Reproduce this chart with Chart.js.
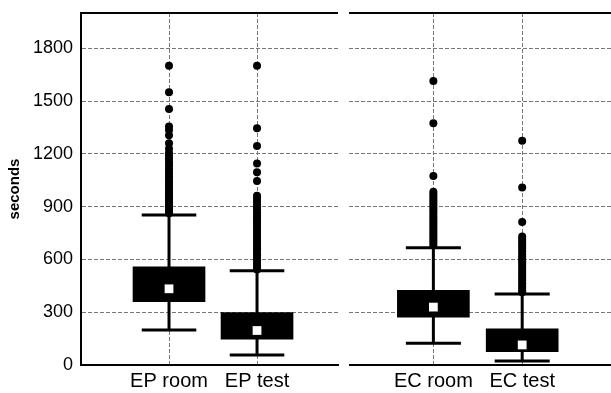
<!DOCTYPE html>
<html>
<head>
<meta charset="utf-8">
<script src="https://cdn.jsdelivr.net/npm/chart.js@4.4.1/dist/chart.umd.min.js"></script>
<style>
  body { margin: 0; background: #fff; }
  #wrap { position: relative; width: 611px; height: 393px; overflow: hidden; }
  #chart_ep { position: absolute; left: 0; top: 0; }
  #chart_ec { position: absolute; left: 349px; top: 0; }
</style>
</head>
<body>
<div id="wrap">
  <canvas id="chart_ep" width="340" height="393"></canvas>
  <canvas id="chart_ec" width="262" height="393"></canvas>
</div>
<script>
// Box plots de tiempos (segundos): panel EP y panel EC

const catEP = ['EP room', 'EP test'];
const catEC = ['EC room', 'EC test'];
const posX = [1, 2];

// cuartiles y bigotes
const lowEP  = [199, 57];
const q1EP   = [360, 147];
const medEP  = [433, 196];
const q3EP   = [558, 298];
const highEP = [852, 536];

const lowEC  = [124, 23];
const q1EC   = [272, 76];
const medEC  = [329, 114];
const q3EC   = [424, 205];
const highEC = [666, 403];

// valores atípicos
const outEPRoom = [1700, 1550, 1455, 1355, 1335, 1305, 1260, 1228, 1205, 1188, 1170, 1152, 1135, 1118, 1102, 1088,
                   1072, 1058, 1043, 1030, 1016, 1002, 990, 976, 962, 950, 938, 925, 913, 902, 892, 881, 870, 862];
const outEPTest = [1700, 1345, 1245, 1145, 1095, 1045, 962, 945, 928, 912, 897, 882, 866, 851, 836, 822, 808, 795,
                   780, 764, 750, 736, 721, 707, 692, 678, 664, 650, 636, 622, 608, 594, 580, 566, 552, 542];
const outECRoom = [1614, 1373, 1074, 985, 971, 957, 943, 929, 915, 901, 887, 873, 859, 845, 831, 818, 804, 790,
                   776, 762, 748, 735, 722, 708, 694, 680];
const outECTest = [1274, 1008, 812, 730, 716, 702, 688, 674, 660, 646, 632, 618, 604, 590, 576, 562, 548, 534,
                   520, 506, 492, 478, 464, 450, 437, 424, 414];

const yTicks = [0, 300, 600, 900, 1200, 1500, 1800];
const yMax = 2000;

const capHalf = 0.31;
const gridColor = '#777';

function seg(x1, y1, x2, y2) {
    return {
        type: 'line',
        data: [{ x: x1, y: y1 }, { x: x2, y: y2 }],
        borderColor: '#000',
        borderWidth: 3,
        pointRadius: 0,
        order: 2
    };
}

function boxDatasets(low, q1, med, q3, high, outs) {
    const ds = [];
    // cajas
    ds.push({
        type: 'bar',
        data: posX.map((x, i) => ({ x: x, y: [q1[i], q3[i]] })),
        backgroundColor: '#000',
        borderWidth: 0,
        barThickness: 72,
        order: 3
    });
    // bigotes
    posX.forEach((x, i) => {
        ds.push(seg(x, low[i], x, high[i]));
        ds.push(seg(x - capHalf, low[i], x + capHalf, low[i]));
        ds.push(seg(x - capHalf, high[i], x + capHalf, high[i]));
    });
    // atípicos
    ds.push({
        type: 'scatter',
        data: outs.flatMap((arr, i) => arr.map(v => ({ x: posX[i], y: v }))),
        backgroundColor: '#000',
        borderWidth: 0,
        pointRadius: 4,
        order: 1
    });
    // medianas
    ds.push({
        type: 'scatter',
        data: posX.map((x, i) => ({ x: x, y: med[i] })),
        pointStyle: 'rect',
        backgroundColor: '#fff',
        borderWidth: 0,
        pointRadius: 6.2,
        order: 0
    });
    return ds;
}

// línea superior del marco
const topLine = {
    id: 'topLine',
    beforeDatasetsDraw(chart) {
        const a = chart.chartArea;
        const c = chart.ctx;
        c.save();
        c.strokeStyle = '#000';
        c.lineWidth = 2;
        c.beginPath();
        c.moveTo(a.left, a.top);
        c.lineTo(a.right, a.top);
        c.stroke();
        c.restore();
    }
};

function makeChart(id, cats, datasets, xMin, xMax, left) {
    return new Chart(document.getElementById(id).getContext('2d'), {
        type: 'bar',
        data: { datasets: datasets },
        plugins: [topLine],
        options: {
            responsive: false,
            animation: false,
            layout: { autoPadding: false, padding: { top: 13, right: left ? 2 : 0, left: 0, bottom: 0 } },
            plugins: { legend: { display: false }, tooltip: { enabled: false } },
            scales: {
                x: {
                    type: 'linear',
                    min: xMin,
                    max: xMax,
                    offset: false,
                    afterBuildTicks: (axis) => { axis.ticks = posX.map(v => ({ value: v })); },
                    afterFit: (scale) => {
                        scale.height = 28;
                        scale.paddingLeft = 0;
                        scale.paddingRight = 0;
                    },
                    ticks: {
                        autoSkip: false,
                        maxRotation: 0,
                        padding: 4,
                        color: '#000',
                        font: { family: 'Liberation Sans, Arial, sans-serif', size: 20 },
                        callback: (v) => cats[posX.indexOf(v)]
                    },
                    grid: { offset: false, color: gridColor, drawTicks: false, lineWidth: 1 },
                    border: { display: true, color: '#000', width: 2, dash: [4, 2] }
                },
                y: {
                    min: 0,
                    max: yMax,
                    afterBuildTicks: (axis) => { axis.ticks = yTicks.map(v => ({ value: v })); },
                    afterFit: (scale) => {
                        scale.width = left ? 81 : 0;
                        scale.paddingTop = 0;
                        scale.paddingBottom = 0;
                    },
                    ticks: {
                        display: left,
                        padding: 8,
                        color: '#000',
                        font: { family: 'Liberation Sans, Arial, sans-serif', size: 18 },
                        callback: (v) => String(v)
                    },
                    grid: {
                        color: (c) => c.tick && c.tick.value === 0 ? 'rgba(0,0,0,0)' : gridColor,
                        drawTicks: false,
                        lineWidth: 1
                    },
                    border: { display: left, color: '#000', width: 2, dash: [4, 2] },
                    title: {
                        display: left,
                        text: 'seconds',
                        color: '#000',
                        padding: { top: 6, bottom: 0 },
                        font: { family: 'Liberation Sans, Arial, sans-serif', size: 15, weight: 'bold' }
                    }
                }
            }
        }
    });
}

const chartEP = makeChart('chart_ep', catEP,
    boxDatasets(lowEP, q1EP, medEP, q3EP, highEP, [outEPRoom, outEPTest]), 0, 2.92, true);
const chartEC = makeChart('chart_ec', catEC,
    boxDatasets(lowEC, q1EC, medEC, q3EC, highEC, [outECRoom, outECTest]), 0.05, 3.0, false);
</script>
</body>
</html>
